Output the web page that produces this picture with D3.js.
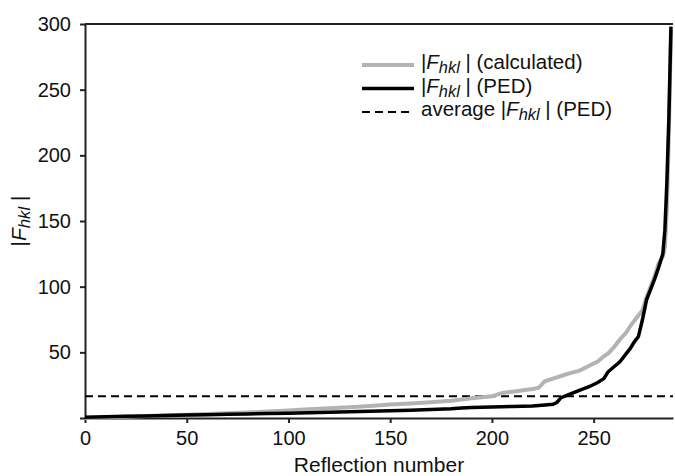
<!DOCTYPE html>
<html>
<head>
<meta charset="utf-8">
<script src="https://cdn.jsdelivr.net/npm/d3@7"></script>
<style>
    body { margin: 0; background: #fff; }
    text { font-family: "Liberation Sans", Arial, sans-serif; fill: #111; }
</style>
</head>
<body>
<div id="chart"></div>
<script>
'use strict';

// reflection numbers at which the sorted curves were read
var reflections = [0, 10, 20, 30, 40, 50, 60, 70, 80, 90, 100, 110, 120, 130, 140, 150, 160, 170, 180, 185,
                   190, 200, 205, 210, 220, 223, 226, 230, 232, 234, 238, 243, 248, 252, 255, 257, 260, 263, 266, 268,
                   270, 272, 274, 276, 278, 280, 282, 284, 285, 286, 287, 288];

var fCalculated = [0, 0.5, 1, 1.5, 2, 2.5, 3, 3.6, 4.2, 5, 5.8, 6.6, 7.4, 8.2, 9.2, 10.2, 11, 12, 13.2, 14,
                   15, 16.5, 19, 20, 22, 23, 28, 30, 31, 32, 34, 36, 40, 43, 47, 49, 54, 60, 65, 70,
                   74, 78, 82, 92, 100, 108, 118, 123, 130, 160, 220, 295];

var fPED = [0.5, 1, 1.3, 1.6, 1.9, 2.2, 2.5, 2.8, 3.1, 3.4, 3.7, 4, 4.3, 4.7, 5.1, 5.5, 5.9, 6.4, 7, 7.6,
            8, 8.4, 8.6, 8.8, 9.2, 9.5, 9.9, 10.5, 12, 15.5, 18, 21, 24, 27, 30, 35, 39, 43, 49, 53,
            58, 62, 75, 90, 98, 106, 115, 125, 143, 180, 230, 298];

var averagePED = 16.5;

var xTicks = [0, 50, 100, 150, 200, 250];
var yTicks = [0, 50, 100, 150, 200, 250, 300];

var width = 675, height = 476;
var margin = {left: 85, right: 2, top: 24, bottom: 58};

var svg = d3.select("#chart")
            .append("svg")
            .attr("width", width)
            .attr("height", height);

var x = d3.scaleLinear().domain([0, 289]).range([margin.left, width - margin.right]);
var y = d3.scaleLinear().domain([0, 300]).range([height - margin.bottom, margin.top]);

// axes
var xAxis = svg.append("g")
               .attr("transform", "translate(0," + y(0) + ")")
               .call(d3.axisBottom(x).tickValues(xTicks).tickSize(5).tickPadding(8).tickSizeOuter(0));

var yAxis = svg.append("g")
               .attr("transform", "translate(" + x(0) + ",0)")
               .call(d3.axisLeft(y).tickValues(yTicks).tickSize(5).tickPadding(9).tickSizeOuter(0)
                       .tickFormat(d => d === 0 ? "" : d));

[xAxis, yAxis].forEach(a => {
    a.selectAll("path.domain").attr("stroke", "#222").attr("stroke-width", 2);
    a.selectAll(".tick line").attr("stroke", "#222").attr("stroke-width", 2);
    a.selectAll(".tick text").attr("font-size", 20).attr("fill", "#111")
        .attr("font-family", "Liberation Sans, Arial, sans-serif");
});

// top frame line
svg.append("line")
   .attr("x1", x(0)).attr("x2", x(289))
   .attr("y1", y(300)).attr("y2", y(300))
   .attr("stroke", "#222").attr("stroke-width", 2);

// average line
svg.append("line")
   .attr("x1", x(0)).attr("x2", x(289))
   .attr("y1", y(averagePED)).attr("y2", y(averagePED))
   .attr("stroke", "#000").attr("stroke-width", 2)
   .attr("stroke-dasharray", "8,5");

var line = d3.line()
             .x((d, i) => x(reflections[i]))
             .y(d => y(d));

svg.append("path")
   .attr("d", line(fCalculated))
   .attr("fill", "none")
   .attr("stroke", "#b3b3b3")
   .attr("stroke-width", 4);

svg.append("path")
   .attr("d", line(fPED))
   .attr("fill", "none")
   .attr("stroke", "#000")
   .attr("stroke-width", 3.5);

// |F_hkl | label pieces
function addFhkl(textSel) {
    textSel.append("tspan").text("|");
    textSel.append("tspan").attr("font-style", "italic").text("F");
    textSel.append("tspan").attr("font-style", "italic").attr("font-size", "0.8em")
           .attr("dy", 4).text("hkl");
    textSel.append("tspan").attr("dy", -4).text(" |");
}

// axis titles
svg.append("text")
   .attr("x", x(144.5))
   .attr("y", 472)
   .attr("text-anchor", "middle")
   .attr("font-size", 21)
   .text("Reflection number");

var yTitle = svg.append("text")
                .attr("transform", "translate(26," + y(150) + ") rotate(-90)")
                .attr("text-anchor", "middle")
                .attr("font-size", 21);
addFhkl(yTitle);

// legend
var legend = [
    {stroke: "#b3b3b3", width: 4, dash: null, pre: "", post: " (calculated)"},
    {stroke: "#000", width: 3.5, dash: null, pre: "", post: " (PED)"},
    {stroke: "#000", width: 2, dash: "8,5", pre: "average ", post: " (PED)"}
];

var legendGroups = svg.selectAll("g.legend")
                      .data(legend)
                      .enter()
                      .append("g")
                      .classed("legend", true)
                      .attr("transform", (d, i) => "translate(362," + (65 + i * 23.5) + ")");

legendGroups.append("line")
            .attr("x1", 0).attr("x2", 52)
            .attr("stroke", d => d.stroke)
            .attr("stroke-width", d => d.width)
            .attr("stroke-dasharray", d => d.dash);

legendGroups.each(function(d) {
    var t = d3.select(this).append("text")
              .attr("x", 59)
              .attr("y", 4)
              .attr("font-size", 20.5);
    if (d.pre) t.append("tspan").text(d.pre);
    addFhkl(t);
    t.append("tspan").text(d.post);
});
</script>
</body>
</html>
